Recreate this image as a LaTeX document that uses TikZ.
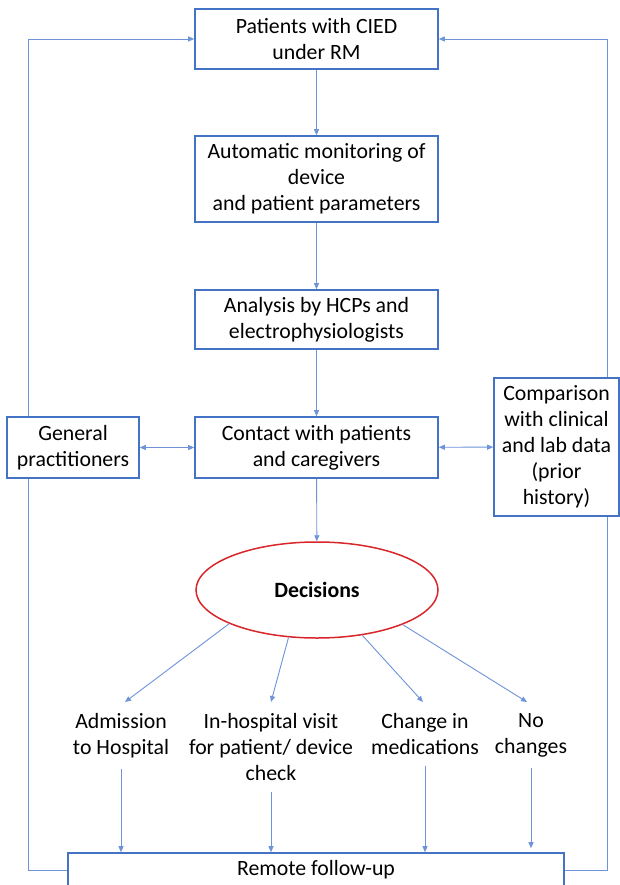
\documentclass[tikz,border=0pt]{standalone}
\usepackage{fontspec}
\setmainfont{Carlito}
\usetikzlibrary{arrows.meta,shapes.geometric}
\definecolor{boxblue}{HTML}{4472C4}
\definecolor{connblue}{HTML}{6E93D8}
\definecolor{ellred}{HTML}{D9262B}
\begin{document}
\begin{tikzpicture}[x=1pt,y=-1pt,
  font=\fontsize{21.8}{26}\selectfont,
  box/.style={draw=boxblue,line width=1.6pt,fill=white,align=center,inner sep=0pt},
  lbl/.style={align=center,inner xsep=0pt,inner ysep=11pt,anchor=north},
  conn/.style={draw=connblue,line width=0.9pt},
  arr/.style={conn,-{Triangle[length=6pt,width=5pt]}},
  darr/.style={conn,{Triangle[length=6pt,width=5pt]}-{Triangle[length=6pt,width=5pt]}}]
\useasboundingbox (0,0) rectangle (620,885);
\fill[white] (0,0) rectangle (620,885);

\node[box,minimum width=243pt,minimum height=60pt] (top) at (316.5,39) {Patients with CIED\\under RM};
\node[box,minimum width=243pt,minimum height=86pt] (auto) at (316.5,179) {Automatic monitoring of\\device\\and patient parameters};
\node[box,minimum width=243pt,minimum height=59pt] (ana) at (316.5,319.5) {Analysis by HCPs and\\electrophysiologists};
\node[box,minimum width=243pt,minimum height=61pt] (cont) at (316.5,447.5) {Contact with patients\\and caregivers};
\node[box,minimum width=132pt,minimum height=61pt] (gp) at (73,447.5) {General\\practitioners};
\node[box,minimum width=125pt,minimum height=138pt] (cmp) at (556.5,447) {Comparison\\with clinical\\and lab data\\(prior\\history)};
\node[ellipse,draw=ellred,line width=1.5pt,minimum width=242pt,minimum height=96pt,inner sep=0pt,font=\fontsize{21.8}{26}\selectfont\bfseries] (dec) at (317,590) {Decisions};

\node[lbl] (adm) at (121,702) {Admission\\to Hospital};
\node[lbl] (vis) at (271,702) {In-hospital visit\\for patient/ device\\check};
\node[lbl] (med) at (425,702) {Change in\\medications};
\node[lbl] (noc) at (531,702) {No\\changes};

\node[box,minimum width=496pt,minimum height=34pt] (rem) at (316,870) {Remote follow-up};

\coordinate (L1) at (28,870);
\coordinate (L2) at (28,39);
\coordinate (R1) at (607,870);
\coordinate (R2) at (607,39);

\draw[arr] (top) -- (auto);
\draw[arr] (auto) -- (ana);
\draw[arr] (ana) -- (cont);
\draw[arr] (cont) -- (dec);
\draw[darr] (gp) -- (cont);
\draw[darr] (cont) -- (cmp);

\draw[arr] (dec.201) -- (adm.north -| 125,0);
\draw[arr] (dec.239) -- (vis.north);
\draw[arr] (dec.315) -- (med.north -| 423,0);
\draw[arr] (dec.338) -- (noc.north -| 527,0);

\draw[arr] (adm.south) -- (adm.south |- rem.north);
\draw[arr] (vis.south) -- (vis.south |- rem.north);
\draw[arr] (med.south) -- (med.south |- rem.north);
\draw[arr,shorten >=4pt] (noc.south) -- (noc.south |- rem.north);

\draw[conn] (rem.west) -- (L1) -- (L1 |- gp.south);
\draw[arr] (L1 |- gp.north) -- (L2) -- (top.west);
\draw[conn] (rem.east) -- (R1) -- (R1 |- cmp.south);
\draw[arr] (R1 |- cmp.north) -- (R2) -- (top.east);
\end{tikzpicture}
\end{document}
